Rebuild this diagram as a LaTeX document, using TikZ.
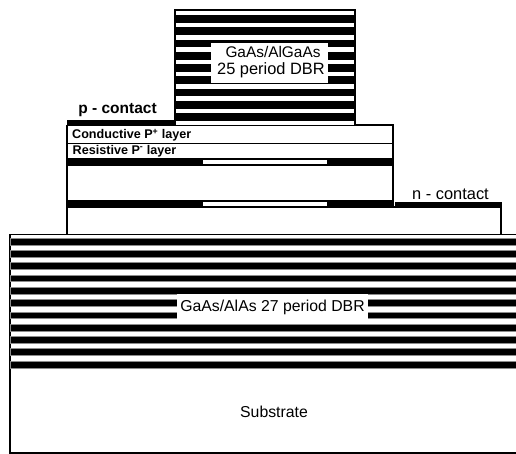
\documentclass[tikz,border=0pt]{standalone}
\usepackage{fontspec}
\setmainfont{Liberation Sans}
\usepackage{xcolor}
\usetikzlibrary{positioning}

\begin{document}
\begin{tikzpicture}[
    x=1pt, y=-1pt,
    outline/.style={draw=black, line width=1.3pt},
    metal/.style={fill=black},
    gap/.style={fill=white},
    period/.style={fill=black, draw=black!45, line width=0.5pt},
    title/.style={inner sep=0pt, font=\fontsize{15.8}{15.8}\selectfont},
    layertext/.style={inner sep=0pt, anchor=west, font=\fontsize{12.6}{12.6}\selectfont\bfseries},
    labelbox/.style={rectangle, fill=white, inner sep=0pt}
]
    \useasboundingbox (0,0) rectangle (516,454);

    % Bottom DBR and substrate
    \draw[outline] (10,234.5) rectangle (518,453);
    \foreach \row in {0,...,10}
        \fill[period] (10,{238+12.3*\row}) rectangle (518,{244.8+12.3*\row});
    \node[labelbox, minimum width=191pt, minimum height=26pt] (bottom_box) at (272.5,307) {};
    \node[title] (bottom_dbr) at (bottom_box.center) {GaAs/AlAs 27 period DBR};
    \node[title] (substrate) at (274,412) {Substrate};

    % Lower mesa
    \draw[outline] (67,234.5) -- (67,207) -- (501,207) -- (501,234.5);
    \fill[metal] (395,202) rectangle (501.6,208);
    \node[title, anchor=south, font=\fontsize{16.4}{16.4}\selectfont] (n_contact) at (450.5,200) {n - contact};

    % Upper mesa
    \draw[outline] (67,125.5) rectangle (393,207);
    \draw[line width=0.8pt] (67,143.5) -- (393,143.5);
    \fill[metal] (67,120) rectangle (174,126);
    \fill[metal] (355,124) rectangle (393.6,126.2);
    \foreach \band in {158,200}
    {
        \fill[metal] (67,\band) rectangle (393.6,\band+8);
        \fill[gap] (202.5,\band+2) rectangle (327,\band+6.5);
    }
    \node[layertext] (conductive) at (72,135) {Conductive P\textsuperscript{+} layer};
    \node[layertext] (resistive) at (72.5,151) {Resistive P\textsuperscript{-} layer};
    \node[title, anchor=south, font=\fontsize{15.5}{15.5}\selectfont\bfseries] (p_contact) at (117.5,117) {p - contact};

    % Top DBR
    \fill[metal] (174,9) rectangle (355.5,125);
    \foreach \row in {0,...,9}
        \fill[gap] (176,{10.7+12.25*\row}) rectangle (353.5,{15.2+12.25*\row});
    \node[labelbox, minimum width=117pt, minimum height=40pt] (top_box) at (269.5,63) {};
    \node[title, font=\fontsize{15.4}{15.4}\selectfont] (top_material) at (273,52) {GaAs/AlGaAs};
    \node[title, font=\fontsize{16.4}{16.4}\selectfont] (top_period) at (271,70) {25 period DBR};
\end{tikzpicture}
\end{document}
